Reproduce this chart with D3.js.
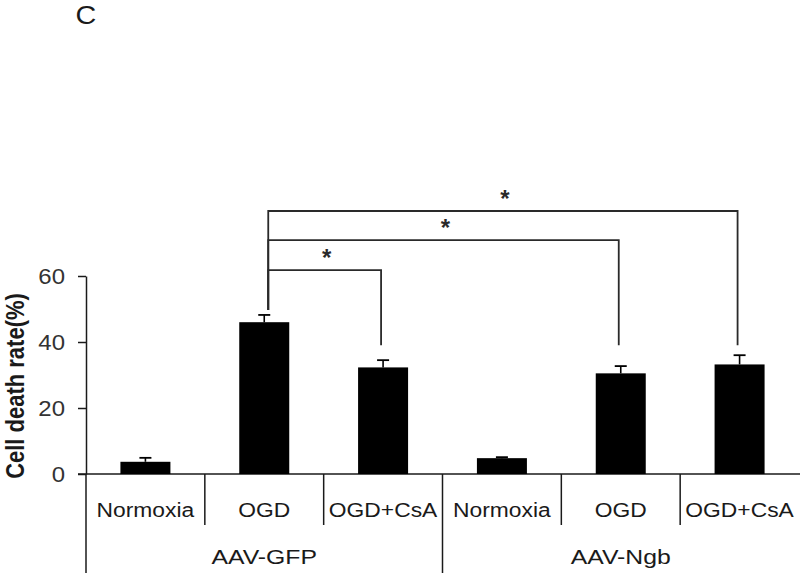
<!DOCTYPE html>
<html>
<head>
<meta charset="utf-8">
<script src="https://cdn.jsdelivr.net/npm/d3@7/dist/d3.min.js"></script>
<style>
  html, body { margin: 0; padding: 0; background: #fff; }
  svg { display: block; font-family: "Liberation Sans", Arial, sans-serif; }
</style>
</head>
<body>
<svg id="chart" width="800" height="573"></svg>
<script>
// ---- data ----
const categories = ["Normoxia", "OGD", "OGD+CsA", "Normoxia", "OGD", "OGD+CsA"];
const groups = ["AAV-GFP", "AAV-Ngb"];
const values = [3.7, 46.0, 32.3, 4.8, 30.5, 33.2];
const errors = [1.2, 2.2, 2.2, 0.3, 2.2, 2.8];
const yTicks = [0, 20, 40, 60];
const bracketFrom = [1, 1, 1];
const bracketTo = [2, 4, 5];
const bracketLevel = [61.8, 70.9, 79.7];
const bracketEndRight = 39;
const bracketLabels = ["*", "*", "*"];
const panelLabel = "C";
const yTitle = "Cell death rate(%)";

// ---- layout ----
const W = 800, H = 573;
const svg = d3.select("#chart");
svg.append("rect").attr("width", W).attr("height", H).attr("fill", "#fff");

const x = d3.scaleBand().domain(d3.range(categories.length)).range([86, 799]).padding(0);
const y = d3.scaleLinear().domain([0, 60]).range([474, 276]);
const barW = 50;
const ink = "#1a1a1a";
const cx = i => x(i) + x.bandwidth() / 2;

function stretch(sel, k) {
  sel.each(function () {
    const L = this.getComputedTextLength();
    d3.select(this).attr("textLength", L * k).attr("lengthAdjust", "spacingAndGlyphs");
  });
}

// panel label
svg.append("text").attr("x", 86).attr("y", 24).attr("text-anchor", "middle")
  .attr("font-size", 25).attr("fill", ink).text(panelLabel)
  .call(stretch, 1.15);

// y axis
const yAxis = d3.axisLeft(y).tickValues(yTicks).tickSize(8).tickSizeOuter(0).tickPadding(13);
const gY = svg.append("g").attr("transform", "translate(86,0)").call(yAxis);
gY.select(".domain").attr("stroke", ink).attr("stroke-width", 1.5);
gY.selectAll(".tick line").attr("stroke", ink).attr("stroke-width", 1.5);
gY.selectAll(".tick text").attr("font-size", 22).attr("fill", "#333")
  .attr("font-family", "Liberation Sans, Arial, sans-serif").call(stretch, 1.09);

// y title
svg.append("text")
  .attr("transform", "translate(14,386) scale(1.2,1) rotate(-90)")
  .attr("text-anchor", "middle").attr("dy", "0.36em")
  .attr("font-size", 22).attr("font-weight", "bold").attr("fill", ink)
  .text(yTitle);

// baseline
svg.append("line").attr("x1", 78).attr("x2", 800).attr("y1", y(0)).attr("y2", y(0))
  .attr("stroke", ink).attr("stroke-width", 1.5);

// table left border (continuation of axis)
svg.append("line").attr("x1", 86).attr("x2", 86).attr("y1", y(0)).attr("y2", H)
  .attr("stroke", ink).attr("stroke-width", 1.5);

// category dividers
const perGroup = categories.length / groups.length;
d3.range(1, categories.length).forEach(i => {
  const isGroup = i % perGroup === 0;
  svg.append("line").attr("x1", x(i)).attr("x2", x(i))
    .attr("y1", y(0)).attr("y2", isGroup ? H : 525)
    .attr("stroke", ink).attr("stroke-width", 1.5);
});

// category labels
svg.selectAll(".cat").data(categories).join("text").attr("class", "cat")
  .attr("x", (d, i) => cx(i)).attr("y", 517).attr("text-anchor", "middle")
  .attr("font-size", 19.5).attr("fill", ink).text(d => d)
  .call(stretch, 1.17);

// group labels
svg.selectAll(".grp").data(groups).join("text").attr("class", "grp")
  .attr("x", (d, g) => (x(g * perGroup) + x(g * perGroup + perGroup - 1) + x.bandwidth()) / 2)
  .attr("y", 564).attr("text-anchor", "middle")
  .attr("font-size", 21).attr("fill", ink).text(d => d)
  .call(stretch, 1.18);

// bars
svg.selectAll(".bar").data(values).join("rect").attr("class", "bar")
  .attr("x", (d, i) => cx(i) - barW / 2).attr("width", barW)
  .attr("y", d => y(d)).attr("height", d => y(0) - y(d))
  .attr("fill", "#000");

// error bars (upper only)
values.forEach((v, i) => {
  const top = y(v + errors[i]);
  svg.append("line").attr("x1", cx(i)).attr("x2", cx(i)).attr("y1", y(v)).attr("y2", top)
    .attr("stroke", "#000").attr("stroke-width", 1.6);
  svg.append("line").attr("x1", cx(i) - 6).attr("x2", cx(i) + 6).attr("y1", top).attr("y2", top)
    .attr("stroke", "#000").attr("stroke-width", 1.8);
});

// significance brackets
bracketFrom.forEach((a, k) => {
  const b = bracketTo[k];
  const yl = y(bracketLevel[k]);
  const leftEnd = y(values[a] + errors[a] + 1.5);
  const rightEnd = y(bracketEndRight);
  const x1 = cx(a) + 4, x2 = cx(b) - 2;
  svg.append("path")
    .attr("d", `M${x1},${leftEnd}V${yl}H${x2}V${rightEnd}`)
    .attr("fill", "none").attr("stroke", "#2a2a2a").attr("stroke-width", 1.8);
  svg.append("text").attr("x", (x1 + x2) / 2 + 2).attr("y", yl - 4)
    .attr("text-anchor", "middle").attr("font-size", 24).attr("font-weight", "bold")
    .attr("fill", "#2a2a2a").text(bracketLabels[k]);
});
</script>
</body>
</html>
